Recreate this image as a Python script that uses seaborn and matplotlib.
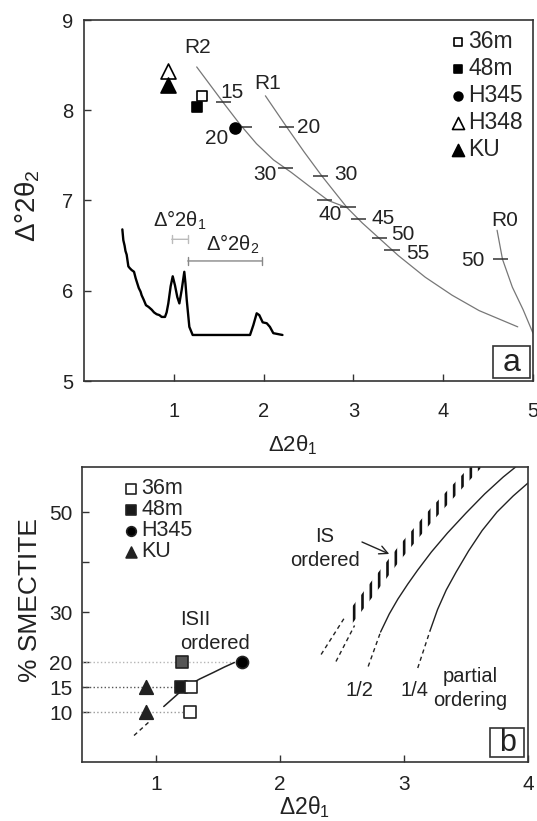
import numpy as np
import pandas as pd
import seaborn as sns
import matplotlib.pyplot as plt
from matplotlib.patches import Rectangle

sns.set_theme(style='ticks')
plt.rcParams['font.family'] = ['Liberation Sans', 'DejaVu Sans']
plt.rcParams['mathtext.fontset'] = 'custom'
plt.rcParams['mathtext.rm'] = 'Liberation Sans'
plt.rcParams['mathtext.it'] = 'Liberation Sans:italic'
plt.rcParams['mathtext.bf'] = 'Liberation Sans:bold'
plt.rcParams['hatch.linewidth'] = 1.9

## ---------------- data, panel a ----------------
a_samples = ['36m', '48m', 'H345', 'H348', 'KU']
a_d2t1 = [1.31, 1.26, 1.68, 0.93, 0.93]
a_d2t2 = [8.16, 8.04, 7.80, 8.44, 8.28]

## calibration curves R2, R1 (joining R2 near 40 %) and R0
r2_x = [1.255, 1.57, 1.74, 1.92, 2.11, 2.31, 2.52, 2.72, 2.93, 3.1, 3.3, 3.5, 3.8, 4.1, 4.4, 4.83]
r2_y = [8.48, 8.06, 7.84, 7.63, 7.45, 7.31, 7.15, 7.00, 6.92, 6.75, 6.57, 6.39, 6.15, 5.95, 5.78, 5.60]
r1_x = [2.02, 2.26, 2.45, 2.65, 2.93]
r1_y = [8.16, 7.81, 7.54, 7.27, 6.92]
r0_x = [4.60, 4.66, 4.77, 4.89, 5.0]
r0_y = [6.67, 6.35, 6.04, 5.79, 5.53]

## % smectite tick marks along the curves
mark_x = [1.55, 1.79, 2.245, 2.675, 2.255, 2.635, 2.94, 3.06, 3.29, 3.43, 4.64]
mark_y = [8.09, 7.81, 7.36, 7.00, 7.81, 7.27, 6.93, 6.79, 6.58, 6.45, 6.35]
mark_lab = ['15', '20', '30', '40', '20', '30', '', '45', '50', '55', '50']
lab_x = [1.65, 1.48, 2.02, 2.74, 2.5, 2.92, 0, 3.33, 3.55, 3.72, 4.33]
lab_y = [8.20, 7.69, 7.29, 6.84, 7.81, 7.29, 0, 6.80, 6.62, 6.41, 6.34]

## inset diffraction trace
xrd_x = [0.427, 0.438, 0.452, 0.462, 0.475, 0.494, 0.51, 0.53, 0.557, 0.575, 0.594,
         0.61, 0.63, 0.642, 0.665, 0.69, 0.72, 0.754, 0.78, 0.809, 0.84, 0.865,
         0.902, 0.92, 0.939, 0.965, 0.988, 1.013, 1.039, 1.062, 1.088, 1.117,
         1.13, 1.144, 1.173, 1.21, 1.5, 1.849, 1.886, 1.923, 1.952, 1.99,
         2.035, 2.07, 2.108, 2.21]
xrd_y = [6.68, 6.56, 6.50, 6.44, 6.40, 6.27, 6.25, 6.23, 6.21, 6.14, 6.08,
         6.03, 5.99, 5.95, 5.90, 5.84, 5.82, 5.79, 5.76, 5.74, 5.73, 5.71,
         5.71, 5.76, 5.86, 6.05, 6.16, 6.06, 5.93, 5.86, 6.01, 6.21,
         6.08, 5.90, 5.60, 5.51, 5.51, 5.51, 5.62, 5.75, 5.73, 5.65,
         5.64, 5.60, 5.53, 5.51]
br1 = (0.977, 1.16, 6.57)
br2 = (1.155, 1.98, 6.33)

## ---------------- data, panel b ----------------
b_samples = ['48m', 'H345', 'KU', '48m', '36m', 'KU', '36m']
b_d2t1 = [1.21, 1.69, 0.92, 1.20, 1.28, 0.92, 1.27]
b_smect = [20, 20, 15, 15, 15, 10, 10]

isii_x = [1.06, 1.16, 1.24, 1.35, 1.46, 1.55, 1.63]
isii_y = [11.1, 13.3, 15.1, 16.6, 17.9, 19.0, 19.9]
isii_dx = [0.82, 0.94]
isii_dy = [5.3, 8.0]

is_x = [2.56, 2.76, 2.96, 3.22, 3.49, 3.62]
is_lo = [27.0, 33.5, 40.1, 47.9, 55.3, 58.8]
is_hi = [30.4, 36.9, 43.3, 50.9, 58.0, 61.0]
is_dash1_x = [2.33, 2.52]
is_dash1_y = [21.5, 28.9]
is_dash2_x = [2.45, 2.60]
is_dash2_y = [20.1, 27.3]

half_x = [2.81, 2.88, 2.95, 3.03, 3.11, 3.22, 3.35, 3.5, 3.65, 3.8, 3.9]
half_y = [26.0, 29.6, 32.6, 35.6, 38.4, 42.0, 45.8, 49.8, 53.6, 57.0, 59.0]
half_dx = [2.71, 2.81]
half_dy = [19.1, 26.0]
quar_x = [3.21, 3.27, 3.34, 3.42, 3.52, 3.63, 3.75, 3.88, 4.0]
quar_y = [26.3, 30.5, 34.4, 38.0, 42.2, 46.3, 50.0, 53.2, 55.8]
quar_dx = [3.11, 3.21]
quar_dy = [18.8, 26.3]

## ---------------- styles ----------------
marker = {'36m': 's', '48m': 's', 'H345': 'o', 'H348': '^', 'KU': '^'}
face = {'36m': 'white', '48m': 'black', 'H345': 'black', 'H348': 'white', 'KU': 'black'}
size = {'36m': 62, '48m': 62, 'H345': 62, 'H348': 117, 'KU': 117}
b_face = ['#555555', 'black', '#222222', '#1a1a1a', 'white', '#222222', 'white']
b_size = [70, 75, 95, 70, 70, 95, 70]
ink = '#222222'
curve_c = '#777777'
fs = 14.5

fig = plt.figure(figsize=(5.37, 8.21), dpi=100)
ax_a = fig.add_axes([84/537, 1-381/821, 449/537, 361/821])
ax_b = fig.add_axes([82/537, 1-762/821, 446/537, 295/821])

## ================= panel a =================
ax = ax_a
for xs, ys in [(r2_x, r2_y), (r1_x, r1_y), (r0_x, r0_y)]:
    sns.lineplot(x=xs, y=ys, ax=ax, color=curve_c, lw=0.9, sort=False, estimator=None)
ax.hlines(mark_y, np.array(mark_x) - 0.085, np.array(mark_x) + 0.085, color='#333333', lw=1.1)
for t, tx, ty in zip(mark_lab, lab_x, lab_y):
    if t:
        ax.text(tx, ty, t, fontsize=15, ha='center', va='center', color=ink)
ax.text(1.27, 8.69, 'R2', fontsize=15, ha='center', va='center', color=ink)
ax.text(2.05, 8.30, 'R1', fontsize=15, ha='center', va='center', color=ink)
ax.text(4.69, 6.78, 'R0', fontsize=15, ha='center', va='center', color=ink)

sns.lineplot(x=xrd_x, y=xrd_y, ax=ax, color='black', lw=1.7, sort=False, estimator=None)
ax.annotate('', xy=(br1[0], br1[2]), xytext=(br1[1], br1[2]),
            arrowprops=dict(arrowstyle='|-|,widthA=0.25,widthB=0.25', color='#bbbbbb',
                            lw=1.0, shrinkA=0, shrinkB=0))
ax.annotate('', xy=(br2[0], br2[2]), xytext=(br2[1], br2[2]),
            arrowprops=dict(arrowstyle='|-|,widthA=0.25,widthB=0.25', color='#888888',
                            lw=1.0, shrinkA=0, shrinkB=0))
ax.text(1.06, 6.78, 'Δ°2θ$_{1}$', fontsize=fs, ha='center', va='center', color=ink)
ax.text(1.66, 6.51, 'Δ°2θ$_{2}$', fontsize=fs, ha='center', va='center', color=ink)

handles = {}
for smp in ['48m', '36m', 'H345', 'H348', 'KU']:
    i = a_samples.index(smp)
    sns.scatterplot(x=[a_d2t1[i]], y=[a_d2t2[i]], ax=ax, marker=marker[smp], s=size[smp],
                    color=face[smp], edgecolor='black', linewidth=1.2, zorder=5, legend=False)
    handles[smp] = ax.collections[-1]
ax.legend([handles[s] for s in a_samples], a_samples, loc='upper right', frameon=False,
          fontsize=16.5, handletextpad=0.0, labelspacing=0.17, borderaxespad=0.1,
          handlelength=0.9, markerscale=0.8, borderpad=0.35)

ax.add_patch(Rectangle((0.911, 0.008), 0.082, 0.089, transform=ax.transAxes,
                       fill=True, fc='white', ec='#333333', lw=1.2, zorder=6))
ax.text(0.952, 0.05, 'a', transform=ax.transAxes, fontsize=23, ha='center', va='center',
        color=ink, zorder=7)

ax.set_xlim(0, 5)
ax.set_ylim(5, 9)
ax.set_xticks([1, 2, 3, 4, 5])
ax.set_yticks([5, 6, 7, 8, 9])
ax.tick_params(axis='both', direction='in', length=5, width=1, color='#333333',
               labelsize=14.5, labelcolor=ink)
ax.tick_params(axis='x', pad=15)
ax.tick_params(axis='y', pad=8)
ax.set_xlabel('Δ2θ$_{1}$', fontsize=16, color=ink)
ax.set_ylabel('Δ°2θ$_{2}$', fontsize=20, color=ink)
ax.xaxis.set_label_coords(0.465, -0.145)
ax.yaxis.set_label_coords(-0.093, 0.485)

## ================= panel b =================
ax = ax_b
bdf = pd.DataFrame({'sample': b_samples, 'd2t1': b_d2t1, 'smect': b_smect})
reach = bdf.groupby('smect')['d2t1'].max()
guide_c = {20: '#b5b5b5', 15: '#555555', 10: '#9a9a9a'}
for lvl, xmax in reach.items():
    ax.hlines(lvl, 0.4, xmax, color=guide_c[lvl], lw=1.0, linestyles=':', zorder=1)

sns.lineplot(x=isii_x, y=isii_y, ax=ax, color=ink, lw=1.1, sort=False, estimator=None)
sns.lineplot(x=isii_dx, y=isii_dy, ax=ax, color=ink, lw=1.0, ls=(0, (3, 2.5)),
             sort=False, estimator=None)

ax.fill_between(is_x, is_lo, is_hi, facecolor='none', edgecolor='#111111', hatch='||', lw=0)
for xs, ys in [(is_dash1_x, is_dash1_y), (is_dash2_x, is_dash2_y),
               (half_dx, half_dy), (quar_dx, quar_dy)]:
    sns.lineplot(x=xs, y=ys, ax=ax, color=ink, lw=1.0, ls=(0, (3, 2.5)),
                 sort=False, estimator=None)
for xs, ys in [(half_x, half_y), (quar_x, quar_y)]:
    sns.lineplot(x=xs, y=ys, ax=ax, color=ink, lw=1.0, sort=False, estimator=None)

seen = {}
for i, smp in enumerate(b_samples):
    sns.scatterplot(x=[b_d2t1[i]], y=[b_smect[i]], ax=ax, marker=marker[smp], s=b_size[i],
                    color=b_face[i], edgecolor='#222222', linewidth=1.2, zorder=5, legend=False)
    if smp not in seen and smp != '48m':
        seen[smp] = ax.collections[-1]
    elif smp == '48m' and b_smect[i] == 15:
        seen[smp] = ax.collections[-1]
leg_order = ['36m', '48m', 'H345', 'KU']
ax.legend([seen[s] for s in leg_order], leg_order, loc='upper left', frameon=False,
          fontsize=15.5, handletextpad=0.0, labelspacing=0.0, borderaxespad=0.2,
          handlelength=0.9, markerscale=0.8, bbox_to_anchor=(0.06, 1.005))

ax.text(1.19, 28.5, 'ISII', fontsize=fs, ha='left', va='center', color=ink)
ax.text(1.19, 23.7, 'ordered', fontsize=fs, ha='left', va='center', color=ink)
ax.text(2.36, 45.2, 'IS', fontsize=fs, ha='center', va='center', color=ink)
ax.text(2.36, 40.2, 'ordered', fontsize=fs, ha='center', va='center', color=ink)
ax.annotate('', xy=(2.88, 41.6), xytext=(2.66, 44.0),
            arrowprops=dict(arrowstyle='->,head_length=0.5,head_width=0.25', color=ink,
                            lw=1.0, shrinkA=0, shrinkB=0))
ax.text(2.64, 14.3, '1/2', fontsize=fs, ha='center', va='center', color=ink)
ax.text(3.08, 14.3, '1/4', fontsize=fs, ha='center', va='center', color=ink)
ax.text(3.53, 17.1, 'partial', fontsize=fs, ha='center', va='center', color=ink)
ax.text(3.53, 12.4, 'ordering', fontsize=fs, ha='center', va='center', color=ink)

ax.add_patch(Rectangle((0.915, 0.017), 0.076, 0.098, transform=ax.transAxes,
                       fill=True, fc='white', ec='#333333', lw=1.2, zorder=6))
ax.text(0.953, 0.066, 'b', transform=ax.transAxes, fontsize=22, ha='center', va='center',
        color=ink, zorder=7)

ax.set_xlim(0.4, 4.0)
ax.set_ylim(0, 59)
ax.set_xticks([1, 2, 3, 4])
ax.set_yticks([10, 15, 20, 30, 40, 50])
ax.set_yticklabels(['10', '15', '20', '30', '', '50'])
ax.tick_params(axis='both', direction='in', length=5, width=1, color='#333333',
               labelsize=15, labelcolor=ink)
ax.tick_params(axis='x', pad=9)
ax.tick_params(axis='y', pad=7)
ax.set_xlabel('Δ2θ$_{1}$', fontsize=16.5, color=ink)
ax.set_ylabel('% SMECTITE', fontsize=19, color=ink)
ax.xaxis.set_label_coords(0.498, -0.11)
ax.yaxis.set_label_coords(-0.090, 0.549)

for a in (ax_a, ax_b):
    for sp in a.spines.values():
        sp.set_visible(True)
        sp.set_color('#333333')
        sp.set_linewidth(1.2)

fig.savefig('out.png', dpi=100)
